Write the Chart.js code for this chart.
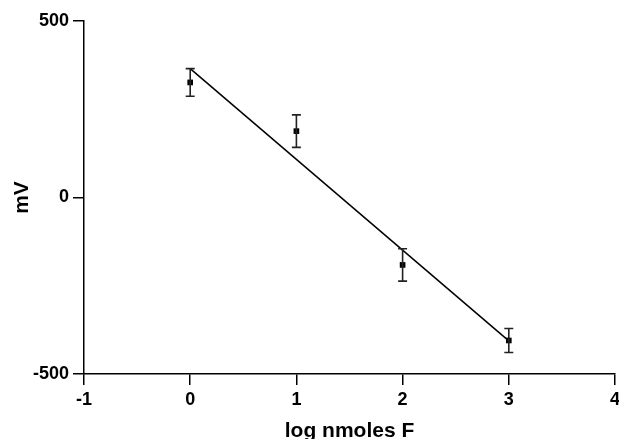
<!DOCTYPE html>
<html lang="en">
    <head>
        <meta charset="UTF-8" />
        <title>mV vs log nmoles F</title>
        <script src="https://cdn.jsdelivr.net/npm/chart.js"></script>
        <style>
            body {
                margin: 0;
                background: white;
            }
        </style>
    </head>
    <body>
        <canvas id="chart" width="619" height="439"></canvas>

        <script>
            // measured points
            const logF = [0, 1, 2, 3];
            const mV = [326, 188, -191, -405];
            const mVErr = [39, 46, 46, 34];

            // regression line end points
            const fitX = [0, 3];
            const fitY = [365, -406];

            const xTicks = [-1, 0, 1, 2, 3, 4];
            const yTicks = [-500, 0, 500];

            const fontFamily = "'Liberation Sans', Arial, sans-serif";

            // draws vertical error bars with caps
            const errorBars = {
                id: 'errorBars',
                afterDatasetsDraw(chart) {
                    const ctx = chart.ctx;
                    const xs = chart.scales.x;
                    const ys = chart.scales.y;
                    ctx.save();
                    ctx.strokeStyle = '#222';
                    ctx.lineWidth = 1.6;
                    logF.forEach((x, i) => {
                        const px = xs.getPixelForValue(x);
                        const top = ys.getPixelForValue(mV[i] + mVErr[i]);
                        const bot = ys.getPixelForValue(mV[i] - mVErr[i]);
                        ctx.beginPath();
                        ctx.moveTo(px, top);
                        ctx.lineTo(px, bot);
                        ctx.moveTo(px - 4.5, top);
                        ctx.lineTo(px + 4.5, top);
                        ctx.moveTo(px - 4.5, bot);
                        ctx.lineTo(px + 4.5, bot);
                        ctx.stroke();
                    });
                    ctx.restore();
                },
            };

            const tickFont = { family: fontFamily, size: 18, weight: 'bold' };
            const titleFont = { family: fontFamily, size: 21, weight: 'bold' };

            new Chart(document.getElementById('chart'), {
                type: 'scatter',
                data: {
                    datasets: [
                        {
                            label: 'fit',
                            data: fitX.map((x, i) => ({ x: x, y: fitY[i] })),
                            showLine: true,
                            borderColor: '#000',
                            borderWidth: 1.5,
                            pointRadius: 0,
                        },
                        {
                            label: 'mV',
                            data: logF.map((x, i) => ({ x: x, y: mV[i] })),
                            pointStyle: 'rect',
                            pointRadius: 4,
                            backgroundColor: '#000',
                            borderColor: '#000',
                            borderWidth: 0,
                        },
                    ],
                },
                options: {
                    responsive: false,
                    animation: false,
                    layout: { padding: { top: 21, right: 0, bottom: 0, left: 0 } },
                    plugins: {
                        legend: { display: false },
                        tooltip: { enabled: false },
                    },
                    scales: {
                        x: {
                            type: 'linear',
                            min: -1,
                            max: 4,
                            afterBuildTicks: (s) => {
                                s.ticks = xTicks.map((v) => ({ value: v }));
                            },
                            afterFit: (s) => {
                                s.height = 65;
                                s.paddingRight = 4;
                            },
                            grid: {
                                drawOnChartArea: false,
                                color: '#000',
                                lineWidth: 1.5,
                                tickLength: 11,
                            },
                            border: { color: '#000', width: 1.5 },
                            ticks: { color: '#000', font: tickFont, padding: 4, maxRotation: 0 },
                            title: {
                                display: true,
                                text: 'log nmoles F',
                                color: '#000',
                                font: titleFont,
                                padding: { top: 0, bottom: -5 },
                            },
                        },
                        y: {
                            type: 'linear',
                            min: -500,
                            max: 500,
                            afterBuildTicks: (s) => {
                                s.ticks = yTicks.map((v) => ({ value: v }));
                            },
                            afterFit: (s) => {
                                s.width = 84;
                            },
                            grid: {
                                drawOnChartArea: false,
                                color: '#000',
                                lineWidth: 1.5,
                                tickLength: 11,
                            },
                            border: { color: '#000', width: 1.5 },
                            ticks: { color: '#000', font: tickFont, padding: 4 },
                            title: {
                                display: true,
                                text: 'mV',
                                color: '#000',
                                font: titleFont,
                                padding: { top: 10, bottom: 0 },
                            },
                        },
                    },
                },
                plugins: [errorBars],
            });
        </script>
    </body>
</html>
